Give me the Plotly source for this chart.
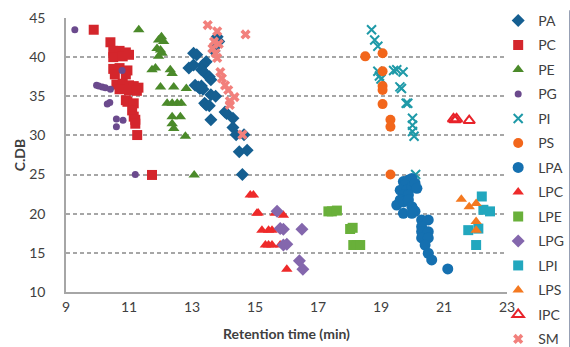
import plotly.graph_objects as go

# ---- data (retention time, C.DB) ----
PA_t = [13.05, 13.15, 13.45, 13.35, 12.9, 13.05, 13.3, 13.4, 13.55, 13.6, 13.1, 13.2, 13.25, 13.35, 13.3, 13.6, 13.75,
        13.4, 13.45, 13.55, 14.05, 14.1, 13.6, 14.3, 14.3, 14.4, 14.65, 14.5, 14.75, 14.6, 13.8, 13.85, 13.75, 13.7]
PA_v = [40.5, 40.3, 39.4, 39.0, 38.6, 39.0, 38.4, 38.0, 37.5, 37.1, 36.4, 36.2, 36.0, 35.9, 36.3, 35.2, 35.0,
        34.1, 33.9, 33.8, 33.0, 32.8, 32.0, 32.2, 31.0, 30.1, 30.1, 27.9, 28.1, 25.0, 42.6, 42.0, 41.4, 40.8]

PC_t = [9.88, 10.41, 10.5, 10.7, 10.9, 10.5, 10.8, 11.0, 10.5, 10.7, 10.95, 10.55, 10.9, 10.6, 10.8, 11.0, 11.15, 11.3,
        10.7, 11.0, 11.25, 10.9, 10.95, 11.15, 11.1, 11.15, 11.2, 11.2, 11.26, 11.73]
PC_v = [43.5, 41.9, 40.8, 40.8, 40.6, 40.0, 40.1, 40.3, 38.5, 38.6, 38.3, 37.8, 37.8, 36.5, 36.6, 36.4, 36.3, 36.1,
        35.9, 35.8, 35.7, 34.5, 34.3, 34.1, 33.2, 32.4, 32.0, 31.5, 30.05, 24.95]

PE_t = [11.31, 11.94, 12.03, 12.1, 11.89, 12.0, 11.94, 12.05, 11.73, 11.84, 12.31, 12.37, 12.0, 12.42, 12.82,
        12.21, 12.37, 12.53, 12.66, 12.37, 12.63, 12.37, 12.42, 12.79, 13.07]
PE_v = [43.5, 42.2, 42.6, 42.0, 41.1, 40.9, 40.1, 40.5, 38.4, 38.6, 38.4, 37.9, 36.2, 36.2, 36.0,
        34.1, 34.1, 34.1, 34.1, 32.4, 32.4, 31.5, 30.9, 29.9, 24.95]

PG_t = [9.28, 10.78, 9.97, 10.04, 10.15, 10.25, 10.41, 10.31, 10.39, 10.6, 10.81, 10.6, 11.2]
PG_v = [43.5, 38.3, 36.4, 36.3, 36.2, 36.1, 35.9, 34.0, 34.2, 32.1, 31.95, 31.1, 25.0]

PI_t = [18.7, 18.8, 18.9, 18.9, 18.95, 19.0, 19.4, 19.5, 19.7, 19.6, 19.65, 19.8, 19.85, 20.0, 20.0, 20.0, 20.05, 20.1]
PI_v = [43.5, 42.2, 41.4, 38.2, 37.6, 37.2, 38.3, 38.4, 38.1, 36.2, 36.0, 34.1, 34.1, 32.2, 31.3, 30.5, 29.9, 25.0]

PS_t = [18.5, 19.05, 19.05, 19.05, 19.05, 19.05, 19.3, 19.3, 19.3]
PS_v = [40.1, 40.5, 38.2, 36.3, 35.8, 34.0, 32.0, 31.1, 25.0]

LPA_t = [19.71, 19.87, 19.98, 19.76, 19.61, 19.82, 19.98, 20.08, 20.14, 19.71, 19.87, 19.61, 19.5, 19.71, 19.87,
         19.98, 20.03, 20.08, 19.71, 19.98, 20.29, 20.5, 20.29, 20.29, 20.5, 20.29, 20.5, 20.4, 20.5, 20.61, 21.12]
LPA_v = [24.1, 24.3, 24.5, 23.7, 23.0, 23.0, 23.45, 23.9, 23.25, 22.4, 22.4, 21.75, 21.1, 21.5, 21.75,
         20.9, 20.5, 20.3, 20.05, 20.05, 19.2, 19.2, 18.35, 17.7, 17.7, 16.9, 16.9, 16.0, 14.95, 14.1, 12.95]

LPC_t = [14.85, 14.95, 15.06, 15.1, 15.64, 15.9, 15.22, 15.43, 15.54, 15.33, 15.43, 15.54, 15.8, 16.01]
LPC_v = [22.4, 22.4, 20.05, 20.1, 20.05, 19.8, 17.9, 17.9, 17.9, 16.0, 16.0, 16.0, 16.0, 12.9]

LPE_t = [17.33, 17.44, 17.6, 18.02, 18.1, 18.12, 18.23, 18.34]
LPE_v = [20.3, 20.3, 20.4, 18.05, 18.2, 16.0, 16.0, 16.0]

LPG_t = [15.7, 15.8, 15.9, 16.49, 15.9, 16.01, 16.41, 16.52]
LPG_v = [20.3, 18.1, 18.0, 18.0, 16.0, 16.1, 14.0, 12.9]

LPI_t = [22.2, 22.25, 22.46, 21.77, 22.09, 22.02]
LPI_v = [22.2, 20.5, 20.3, 17.9, 18.1, 16.0]

LPS_t = [21.55, 21.8, 22.02, 22.02, 22.02]
LPS_v = [21.85, 20.9, 21.3, 19.0, 17.9]

IPC_t = [21.3, 21.35, 21.4, 21.8]
IPC_v = [32.1, 32.0, 32.1, 31.9]

SM_t = [13.5, 14.7, 13.8, 13.7, 13.85, 13.65, 13.75, 13.8, 13.9, 13.95, 14.05, 14.15, 14.35, 14.2, 14.2, 14.6]
SM_v = [44.1, 42.9, 43.3, 42.0, 41.7, 41.1, 40.5, 39.9, 38.1, 37.3, 36.4, 35.8, 34.9, 34.4, 33.9, 30.1]

x_ticks = [9, 11, 13, 15, 17, 19, 21, 23]
y_ticks = [10, 15, 20, 25, 30, 35, 40, 45]

series = [
    ("PA", PA_t, PA_v, dict(symbol="diamond", size=10, color="#155f91")),
    ("PC", PC_t, PC_v, dict(symbol="square", size=10, color="#d4262c")),
    ("PE", PE_t, PE_v, dict(symbol="triangle-up", size=10, color="#4b8a2a")),
    ("PG", PG_t, PG_v, dict(symbol="circle", size=7, color="#6b4a8d")),
    ("PI", PI_t, PI_v, dict(symbol="x-thin", size=9, color="#1f9aa8", line=dict(width=2, color="#1f9aa8"))),
    ("PS", PS_t, PS_v, dict(symbol="circle", size=10, color="#f2661b")),
    ("LPA", LPA_t, LPA_v, dict(symbol="circle", size=11, color="#1570b0")),
    ("LPC", LPC_t, LPC_v, dict(symbol="triangle-up", size=10, color="#ee2a2a")),
    ("LPE", LPE_t, LPE_v, dict(symbol="square", size=10, color="#69b03a")),
    ("LPG", LPG_t, LPG_v, dict(symbol="diamond", size=10, color="#8467ad")),
    ("LPI", LPI_t, LPI_v, dict(symbol="square", size=10, color="#22a7be")),
    ("LPS", LPS_t, LPS_v, dict(symbol="triangle-up", size=10, color="#f47920")),
    ("IPC", IPC_t, IPC_v, dict(symbol="triangle-up-open", size=10, color="#e8232a", line=dict(width=2))),
    ("SM", SM_t, SM_v, dict(symbol="x", size=9, color="#f2807c")),
]

fig = go.Figure()
for name, t, v, m in series:
    fig.add_trace(go.Scatter(x=t, y=v, mode="markers", name=name, marker=m, legendgroup=name))

font = "Lato, 'Open Sans', sans-serif"
fig.update_layout(
    width=570, height=347,
    margin=dict(l=66, r=63, t=18, b=55, autoexpand=False),
    paper_bgcolor="white", plot_bgcolor="white",
    font=dict(family=font, size=14, color="#404040"),
    showlegend=True,
    legend=dict(x=0.98, xanchor="left", y=1.048, yanchor="top", traceorder="grouped",
                tracegroupgap=3.3, font=dict(size=14, color="#404040"), bgcolor="rgba(0,0,0,0)",
                itemwidth=30, maxheight=1.0),
    xaxis=dict(range=[9, 23], tickvals=x_ticks, showgrid=False, zeroline=False,
               showline=True, linecolor="#a6a6a6", linewidth=1.5, ticks="",
               ticklabelstandoff=1,
               title=dict(text="<b>Retention time (min)</b>", font=dict(size=14, color="#404040"), standoff=16)),
    yaxis=dict(range=[10, 45], tickvals=y_ticks, showgrid=True, gridcolor="#a6a6a6", gridwidth=1.5,
               griddash="4px,3px", zeroline=False, showline=True, linecolor="#a6a6a6", linewidth=1.5,
               ticks="", ticklabelstandoff=16,
               title=dict(text="<b>C.DB</b>", font=dict(size=14, color="#404040"), standoff=0)),
)

fig.write_html("out.html", config={"displayModeBar": False},
               post_script="document.body.style.margin='0';document.body.style.overflow='hidden';")
